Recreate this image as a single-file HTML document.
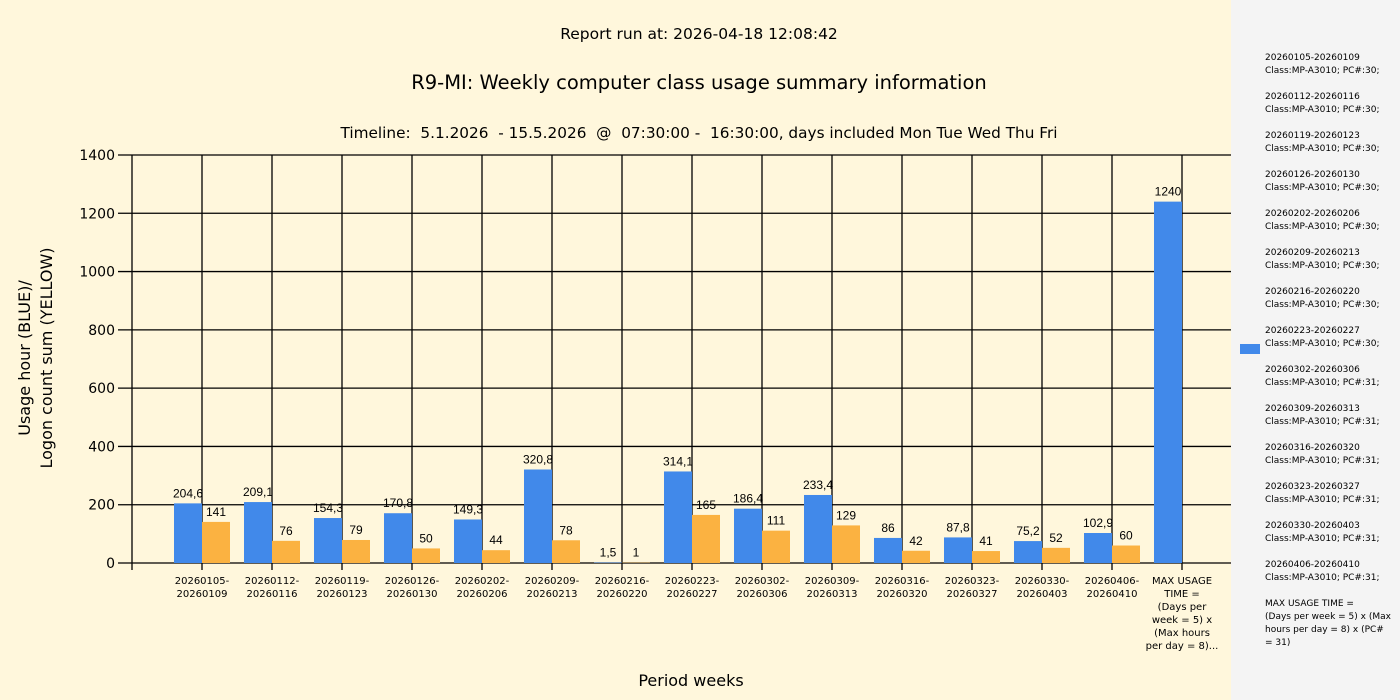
<!DOCTYPE html>
<html><head><meta charset="utf-8"><style>
html,body{margin:0;padding:0;width:1400px;height:700px;overflow:hidden;background:#fff7dc}
svg{display:block;font-family:"DejaVu Sans","Liberation Sans",sans-serif}
</style></head><body>
<svg width="1400" height="700" viewBox="0 0 1400 700" xmlns="http://www.w3.org/2000/svg">
<rect x="0" y="0" width="1400" height="700" fill="#fff7dc"/>
<rect x="1231" y="0" width="169" height="700" fill="#f4f4f4"/>
<text x="699" y="39" font-size="15.5" text-anchor="middle" fill="#000">Report run at: 2026-04-18 12:08:42</text>
<text x="699" y="89" font-size="19.5" text-anchor="middle" fill="#000">R9-MI: Weekly computer class usage summary information</text>
<text x="699" y="138" font-size="15.3" text-anchor="middle" fill="#000" xml:space="preserve">Timeline:  5.1.2026  - 15.5.2026  @  07:30:00 -  16:30:00, days included Mon Tue Wed Thu Fri</text>
<g id="grid" stroke="#000" stroke-width="1.3"></g>
<g id="bars"></g>
<g id="labels" font-size="12" text-anchor="middle" fill="#000" font-family="Liberation Sans, sans-serif"></g>
<g id="yt" font-size="14" text-anchor="end" fill="#000"></g>
<g id="xl" font-size="10" text-anchor="middle" fill="#000"></g>
<text transform="translate(30,358) rotate(-90)" font-size="16" text-anchor="middle" fill="#000">Usage hour (BLUE)/</text>
<text transform="translate(52,358) rotate(-90)" font-size="16" text-anchor="middle" fill="#000">Logon count sum (YELLOW)</text>
<text x="691" y="686" font-size="16" text-anchor="middle" fill="#000">Period weeks</text>
<rect x="1240" y="344" width="20" height="10" fill="#4189ea"/>
<g id="leg" font-size="9" fill="#000"></g>
</svg>
<script>
const NS="http://www.w3.org/2000/svg";
function el(p,t,a,txt){const e=document.createElementNS(NS,t);for(const k in a)e.setAttribute(k,a[k]);if(txt!==undefined)e.textContent=txt;document.getElementById(p).appendChild(e);return e;}
const Y=v=>563-v*408/1400;
for(let v=0;v<=1400;v+=200){const y=Y(v);el("grid","line",{x1:118,x2:1231,y1:y,y2:y});el("yt","text",{x:115,y:y+5},v);}
el("grid","line",{x1:132,x2:132,y1:154.5,y2:570});
for(let i=0;i<15;i++){const x=202+70*i;el("grid","line",{x1:x,x2:x,y1:154.5,y2:570});}
const B=[204.6,209.1,154.3,170.8,149.3,320.8,1.5,314.1,186.4,233.4,86,87.8,75.2,102.9,1240];
const O=[141,76,79,50,44,78,1,165,111,129,42,41,52,60];
const fmt=v=>String(v).replace('.',',');
const cats=["20260105-20260109","20260112-20260116","20260119-20260123","20260126-20260130","20260202-20260206","20260209-20260213","20260216-20260220","20260223-20260227","20260302-20260306","20260309-20260313","20260316-20260320","20260323-20260327","20260330-20260403","20260406-20260410"];
for(let i=0;i<15;i++){const c=202+70*i;
 const y=Y(B[i]);el("bars","rect",{x:c-28,y:y,width:28,height:563-y,fill:"#4189ea"});
 el("labels","text",{x:c-14,y:y-6},fmt(B[i]));
 if(i<14){const yo=Y(O[i]);el("bars","rect",{x:c,y:yo,width:28,height:563-yo,fill:"#fbb241"});
  el("labels","text",{x:c+14,y:yo-6},fmt(O[i]));
  const [a,b]=cats[i].split('-');el("xl","text",{x:c,y:584},a+"-");el("xl","text",{x:c,y:597},b);}
}
["MAX USAGE","TIME =","(Days per","week = 5) x","(Max hours","per day = 8)..."].forEach((t,j)=>el("xl","text",{x:1182,y:584+13*j},t));
const pcs=[30,30,30,30,30,30,30,30,31,31,31,31,31,31];
cats.forEach((c,i)=>{const y=60+39*i;el("leg","text",{x:1265,y:y},c);el("leg","text",{x:1265,y:y+13},"Class:MP-A3010; PC#:"+pcs[i]+";");});
["MAX USAGE TIME ="," (Days per week = 5) x (Max","hours per day = 8) x (PC#","= 31)"].forEach((t,j)=>el("leg","text",{x:1265,y:606+13*j,"xml:space":"preserve"},t));
</script>
</body></html>
